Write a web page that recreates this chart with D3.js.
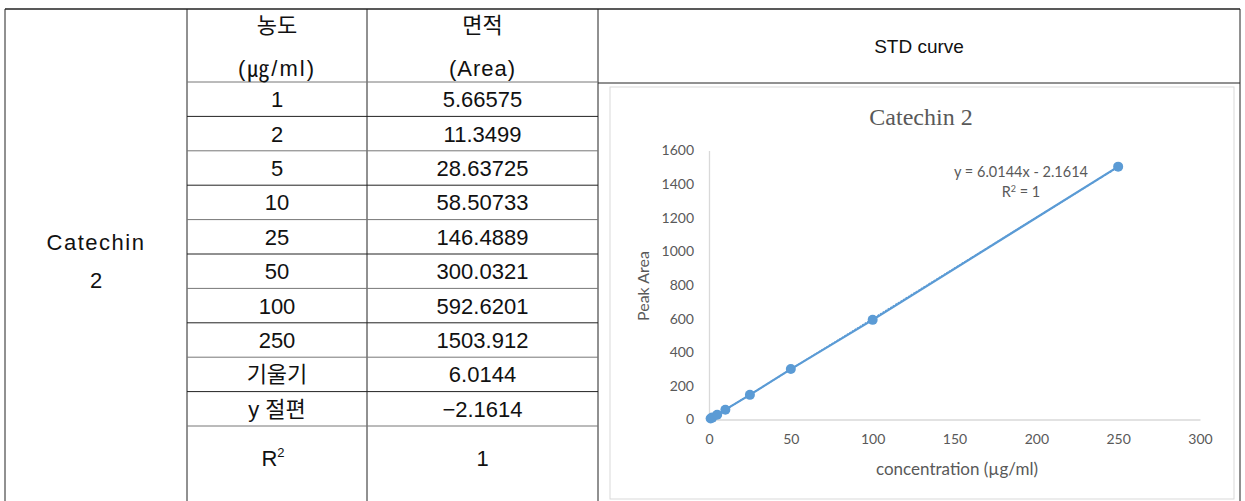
<!DOCTYPE html>
<html>
<head>
<meta charset="utf-8">
<script src="https://cdn.jsdelivr.net/npm/d3@7"></script>
<style>
    body { margin: 0; background: #fff; }
    svg  { display: block; }
    .cell { font-family: "Liberation Sans", "Noto Sans CJK KR", sans-serif; font-size: 22px; fill: #111; }
    .tick-label { font-family: Lato, "Open Sans", sans-serif; font-size: 14px; fill: #595959; }
</style>
</head>
<body>
<svg id="chart" width="1245" height="501"></svg>
<script>

// table + chart values
const compound      = [ "Catechin", "2" ];
const concentration = [ 1, 2, 5, 10, 25, 50, 100, 250 ];
const area          = [ 5.66575, 11.3499, 28.63725, 58.50733, 146.4889, 300.0321, 592.6201, 1503.912 ];
const slope         = 6.0144;
const intercept     = -2.1614;
const rSquared      = 1;
const xTicks        = [ 0, 50, 100, 150, 200, 250, 300 ];
const yTicks        = [ 0, 200, 400, 600, 800, 1000, 1200, 1400, 1600 ];

const W = 1245, H = 501;
const svg = d3.select( "#chart" );

// ---------- table ----------
const colX     = [ 5, 187, 367, 598, 1240 ];
const tableTop = 9;
const headB    = 82;
const rowH     = 34.4;

const rowY = d3.scaleLinear()
               .domain( [ 0, 1 ] )
               .range(  [ headB, headB + rowH ] );

const bodyRows = concentration.map( ( c, i ) => [ String( c ), String( area[ i ] ) ] )
                              .concat( [ [ "기울기", String( slope ) ], [ "y 절편", "\u2212" + Math.abs( intercept ) ] ] );

const lines = svg.append( "g" ).attr( "stroke", "#222" ).attr( "stroke-width", 1 );

// outer + column borders
lines.append( "line" ).attr( "x1", colX[0] ).attr( "x2", colX[4] ).attr( "y1", tableTop ).attr( "y2", tableTop ).attr( "stroke-width", 1.5 );
colX.forEach( x =>
{
    lines.append( "line" ).attr( "x1", x ).attr( "x2", x ).attr( "y1", tableTop ).attr( "y2", H );
});

// header divider in chart column
lines.append( "line" ).attr( "x1", colX[3] ).attr( "x2", colX[4] ).attr( "y1", headB + 1 ).attr( "y2", headB + 1 );

// row dividers in value columns
d3.range( bodyRows.length + 1 ).forEach( i =>
{
    lines.append( "line" )
         .attr( "x1", colX[1] ).attr( "x2", colX[3] )
         .attr( "y1", rowY( i ) ).attr( "y2", rowY( i ) )
         .attr( "stroke", i % 2 ? "#222" : "#777" );
});

const txt = svg.append( "g" ).attr( "class", "cell" ).attr( "text-anchor", "middle" );
const cx1 = ( colX[1] + colX[2] ) / 2, cx2 = ( colX[2] + colX[3] ) / 2;

txt.append( "text" ).attr( "x", cx1 ).attr( "y", 33 ).text( "농도" );
txt.append( "text" ).attr( "x", cx1 ).attr( "y", 76 ).attr( "letter-spacing", 2 ).text( "(㎍/ml)" );
txt.append( "text" ).attr( "x", cx2 ).attr( "y", 33 ).text( "면적" );
txt.append( "text" ).attr( "x", cx2 ).attr( "y", 76 ).attr( "letter-spacing", 1 ).text( "(Area)" );

bodyRows.forEach( ( r, i ) =>
{
    const y = rowY( i + 0.5 ) + 8;
    txt.append( "text" ).attr( "x", cx1 ).attr( "y", y ).text( r[0] );
    txt.append( "text" ).attr( "x", cx2 ).attr( "y", y ).text( r[1] );
});

// R² row (taller, runs to bottom)
const r2y = rowY( bodyRows.length ) + 40;
const rt = txt.append( "text" ).attr( "x", cx1 - 4 ).attr( "y", r2y );
rt.append( "tspan" ).text( "R" );
rt.append( "tspan" ).attr( "font-size", 13 ).attr( "dy", -9 ).text( "2" );
txt.append( "text" ).attr( "x", cx2 ).attr( "y", r2y ).text( String( rSquared ) );

txt.append( "text" ).attr( "x", ( colX[0] + colX[1] ) / 2 ).attr( "y", 250 ).attr( "letter-spacing", 1.5 ).text( compound[0] );
txt.append( "text" ).attr( "x", ( colX[0] + colX[1] ) / 2 ).attr( "y", 288 ).text( compound[1] );

txt.append( "text" ).attr( "x", ( colX[3] + colX[4] ) / 2 ).attr( "y", 53 )
   .attr( "font-size", 19 ).text( "STD  curve" );

// ---------- chart ----------
svg.append( "rect" )
   .attr( "x", 610 ).attr( "y", 87 ).attr( "width", 624 ).attr( "height", 412 )
   .attr( "fill", "#fff" ).attr( "stroke", "#d9d9d9" );

const x = d3.scaleLinear().domain( [ 0, 300 ] ).range( [ 709, 1200 ] );
const y = d3.scaleLinear().domain( [ 0, 1600 ] ).range( [ 419.5, 150.5 ] );

svg.append( "text" )
   .attr( "x", 921 ).attr( "y", 125 ).attr( "text-anchor", "middle" )
   .attr( "font-family", "'Liberation Serif', serif" ).attr( "font-size", 24 ).attr( "fill", "#595959" )
   .text( "Catechin 2" );

const xAxis = svg.append( "g" )
                 .attr( "transform", `translate(0,${ y( 0 ) })` )
                 .call( d3.axisBottom( x ).tickValues( xTicks ).tickSize( 0 ).tickPadding( 15 ).tickFormat( d3.format( "d" ) ) );

const yAxis = svg.append( "g" )
                 .attr( "transform", `translate(${ x( 0 ) },0)` )
                 .call( d3.axisLeft( y ).tickValues( yTicks ).tickSize( 0 ).tickPadding( 15 ).tickFormat( d3.format( "d" ) ) );

[ xAxis, yAxis ].forEach( a =>
{
    a.select( ".domain" ).attr( "stroke", "#d9d9d9" ).attr( "stroke-width", 1.3 );
    a.selectAll( "text" ).attr( "class", "tick-label" ).attr( "fill", null );
});

svg.append( "text" )
   .attr( "transform", "translate(649,286) rotate(-90)" ).attr( "text-anchor", "middle" )
   .attr( "font-family", "Lato, sans-serif" ).attr( "font-size", 16 ).attr( "fill", "#595959" )
   .text( "Peak Area" );

svg.append( "text" )
   .attr( "x", 957 ).attr( "y", 475 ).attr( "text-anchor", "middle" )
   .attr( "font-family", "Lato, sans-serif" ).attr( "font-size", 17 ).attr( "fill", "#595959" )
   .text( "concentration (µg/ml)" );

const pts = concentration.map( ( c, i ) => [ c, area[ i ] ] );

svg.append( "path" )
   .datum( pts )
   .attr( "fill", "none" ).attr( "stroke", "#5b9bd5" ).attr( "stroke-width", 2.2 )
   .attr( "d", d3.line().x( d => x( d[0] ) ).y( d => y( d[1] ) ) );

// linear trendline
svg.append( "line" )
   .attr( "x1", x( 0 ) ).attr( "y1", y( intercept ) )
   .attr( "x2", x( 250 ) ).attr( "y2", y( slope * 250 + intercept ) )
   .attr( "stroke", "#5b9bd5" ).attr( "stroke-width", 1.5 ).attr( "stroke-dasharray", "2,1" );

svg.append( "g" )
   .selectAll( "circle" )
   .data( pts )
   .join( "circle" )
   .attr( "cx", d => x( d[0] ) ).attr( "cy", d => y( d[1] ) ).attr( "r", 5 )
   .attr( "fill", "#5b9bd5" );

const eq = svg.append( "g" )
              .attr( "font-family", "Lato, sans-serif" ).attr( "font-size", 14.5 ).attr( "fill", "#595959" )
              .attr( "text-anchor", "middle" );
eq.append( "text" ).attr( "x", 1021 ).attr( "y", 177 ).text( `y = ${ slope }x - ${ Math.abs( intercept ) }` );
const r2t = eq.append( "text" ).attr( "x", 1021 ).attr( "y", 197 );
r2t.append( "tspan" ).text( "R" );
r2t.append( "tspan" ).attr( "font-size", 9 ).attr( "dy", -5 ).text( "2" );
r2t.append( "tspan" ).attr( "dy", 5 ).text( " = " + rSquared );

</script>
</body>
</html>
